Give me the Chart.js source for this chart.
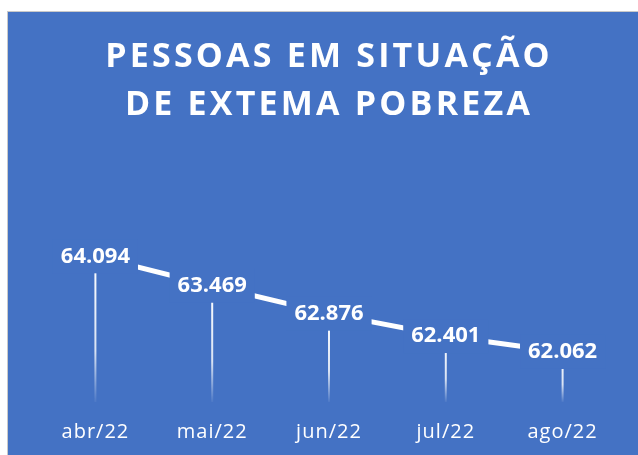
<!DOCTYPE html>
<html lang="pt-BR">
<head>
<meta charset="utf-8">
<title>Pessoas em situação de extrema pobreza</title>
<script src="https://cdn.jsdelivr.net/npm/chart.js@4.4.1/dist/chart.umd.min.js"></script>
<style>
    html, body { margin: 0; padding: 0; background: #ffffff; }
    #wrap {
        position: absolute;
        left: 7px;
        top: 11px;
        width: 631px;
        height: 444px;
        background: #4472c4;
        border-top: 1px solid #c9c9c9;
        border-left: 1px solid #c9c9c9;
        box-sizing: border-box;
    }
</style>
</head>
<body>
<div id="wrap"><canvas id="povertyChart"></canvas></div>
<script>
// chart data (values in thousands of people)
const months = ['abr/22', 'mai/22', 'jun/22', 'jul/22', 'ago/22'];
const people = [64.094, 63.469, 62.876, 62.401, 62.062];
const titleLines = ['PESSOAS EM SITUAÇÃO', 'DE EXTEMA POBREZA'];

const BG = '#4472c4';
const FONT = "'Open Sans', 'Noto Sans', sans-serif";

/**
 * Title gets letter spacing; datasets and tick labels get their own.
 */
const spacingPlugin = {
    id: 'spacing',
    beforeDraw(chart) {
        chart.ctx.letterSpacing = '3.2px';
    },
    beforeDatasetsDraw(chart) {
        chart.ctx.letterSpacing = '0px';
    },
    afterDatasetsDraw(chart) {
        chart.ctx.letterSpacing = '1px';
    },
    afterDraw(chart) {
        chart.ctx.letterSpacing = '0px';
    }
};

/**
 * Drop lines fading toward the axis, then value labels on a
 * background box so the line looks broken around them.
 */
const dropLabelPlugin = {
    id: 'dropLabels',
    afterDatasetsDraw(chart) {
        const { ctx, scales: { y } } = chart;
        const meta = chart.getDatasetMeta(0);
        const base = y.getPixelForValue(y.min);

        ctx.save();
        ctx.letterSpacing = '0px';
        meta.data.forEach(pt => {
            const grad = ctx.createLinearGradient(0, pt.y, 0, base);
            grad.addColorStop(0, 'rgba(255,255,255,1)');
            grad.addColorStop(0.65, 'rgba(255,255,255,0.8)');
            grad.addColorStop(1, 'rgba(255,255,255,0.05)');
            ctx.strokeStyle = grad;
            ctx.lineWidth = 2;
            ctx.beginPath();
            ctx.moveTo(pt.x, pt.y);
            ctx.lineTo(pt.x, base);
            ctx.stroke();
        });

        ctx.font = `bold 22px ${FONT}`;
        ctx.textAlign = 'center';
        ctx.textBaseline = 'middle';
        meta.data.forEach((pt, i) => {
            const txt = people[i].toFixed(3);
            const w = ctx.measureText(txt).width;
            ctx.fillStyle = BG;
            ctx.fillRect(pt.x - w / 2 - 8, pt.y - 17, w + 16, 34);
            ctx.fillStyle = '#ffffff';
            ctx.fillText(txt, pt.x, pt.y);
        });
        ctx.restore();
    }
};

new Chart(document.getElementById('povertyChart'), {
    type: 'line',
    data: {
        labels: months,
        datasets: [{
            data: people,
            borderColor: '#ffffff',
            borderWidth: 5,
            tension: 0,
            pointRadius: 0,
            fill: false
        }]
    },
    options: {
        responsive: true,
        maintainAspectRatio: false,
        animation: false,
        layout: { padding: { left: 29, right: 17, top: 0, bottom: 0 } },
        scales: {
            x: {
                offset: true,
                grid: { display: false, drawTicks: false },
                border: { display: false },
                afterFit(scale) { scale.height = 53; },
                ticks: {
                    color: '#ffffff',
                    padding: 18,
                    z: 1,
                    font: { family: FONT, size: 20 }
                }
            },
            y: {
                display: false,
                min: 61,
                max: 66
            }
        },
        plugins: {
            legend: { display: false },
            tooltip: { enabled: false },
            title: {
                display: true,
                text: titleLines,
                color: '#ffffff',
                padding: { top: 21, bottom: 37 },
                font: { family: FONT, size: 34, weight: 'bold', lineHeight: 1.42 }
            }
        }
    },
    plugins: [spacingPlugin, dropLabelPlugin]
});
</script>
</body>
</html>
